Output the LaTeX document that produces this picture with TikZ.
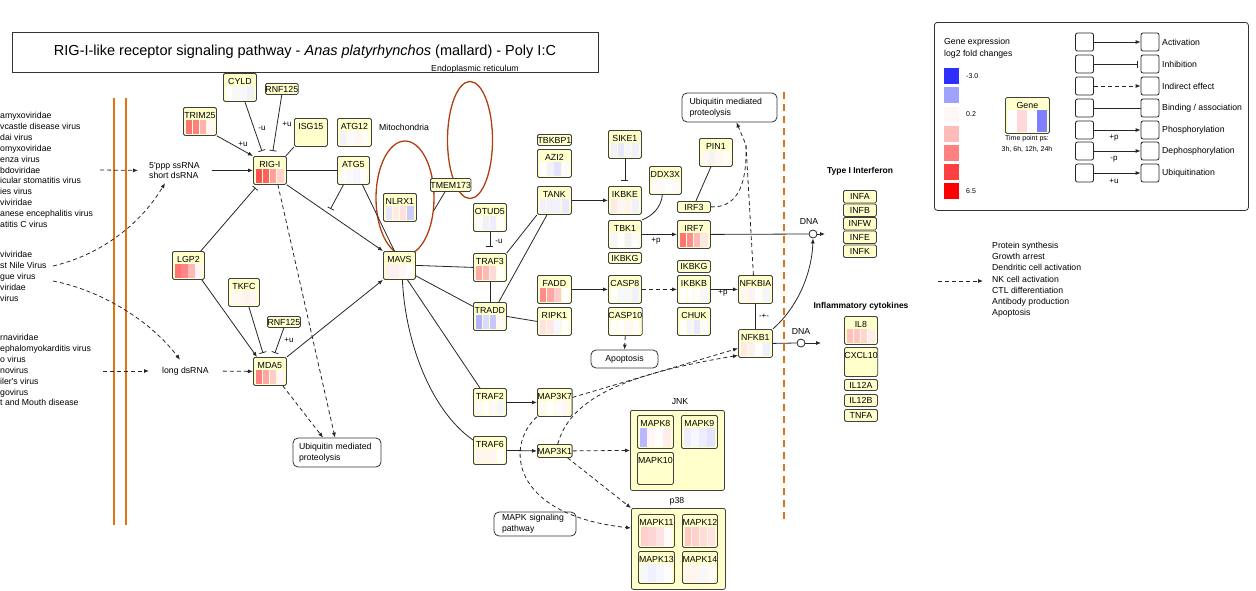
\documentclass[tikz,border=0pt]{standalone}
\usepackage{fontspec}
\setmainfont{Liberation Sans}
\usepackage{tikz}
\usetikzlibrary{arrows.meta,calc,shapes.geometric}
\usepackage{xcolor}
\definecolor{genefill}{RGB}{255,255,204}
\definecolor{geneline}{RGB}{64,64,64}
\definecolor{orgred}{RGB}{178,62,18}
\definecolor{memorange}{RGB}{222,116,18}

\newcommand{\gene}[9][]{%
  \node[gene,anchor=north west,#1] (#2) at (#3,#4) {#5};
  \path[fill=#6] let \p1=(#2.south west),\p2=(#2.north east),\n1={(\x2-\x1-5pt)/4} in (\x1+2.5pt,\y1+2pt) rectangle (\x1+1.7pt+\n1,\y2-13pt);
  \path[fill=#7] let \p1=(#2.south west),\p2=(#2.north east),\n1={(\x2-\x1-5pt)/4} in (\x1+2.5pt+\n1,\y1+2pt) rectangle (\x1+1.7pt+2*\n1,\y2-13pt);
  \path[fill=#8] let \p1=(#2.south west),\p2=(#2.north east),\n1={(\x2-\x1-5pt)/4} in (\x1+2.5pt+2*\n1,\y1+2pt) rectangle (\x1+1.7pt+3*\n1,\y2-13pt);
  \path[fill=#9] let \p1=(#2.south west),\p2=(#2.north east),\n1={(\x2-\x1-5pt)/4} in (\x1+2.5pt+3*\n1,\y1+2pt) rectangle (\x1+1.7pt+4*\n1,\y2-13pt);
}

\begin{document}
\begin{tikzpicture}[x=1pt,y=-1pt,>={Latex[length=5pt,width=4pt]},font=\fontsize{8.7}{10.9}\selectfont,
  gene/.style={draw=geneline,fill=genefill,rounded corners=1.5pt,line width=0.8pt,minimum width=33pt,inner sep=0pt,text height=11pt,text depth=17pt,font=\fontsize{8.8}{10}\selectfont},
  tag/.style={draw=geneline,fill=genefill,rounded corners=1.5pt,line width=0.8pt,minimum width=33pt,minimum height=11pt,inner sep=0pt,text height=6.3pt,text depth=0pt,anchor=north west,font=\fontsize{8.8}{10}\selectfont},
  grp/.style={draw=geneline,fill=genefill,rounded corners=2pt,line width=0.8pt,inner sep=0pt,anchor=north west},
  pbox/.style={draw=black!80,fill=white,rounded corners=5pt,line width=0.8pt,inner xsep=0pt,inner ysep=0pt,align=left,font=\fontsize{8.7}{11}\selectfont},
  legbox/.style={draw=black!85,fill=white,rounded corners=2pt,line width=0.8pt,minimum width=18pt,minimum height=18pt,inner sep=0pt},
  orgring/.style={ellipse,draw=orgred,line width=1.3pt,inner sep=0pt},
  dnacirc/.style={circle,draw=black!85,fill=white,line width=0.8pt,minimum size=8pt,inner sep=0pt},
  txt/.style={inner sep=0pt},
  elab/.style={inner sep=0pt,font=\fontsize{8}{9}\selectfont},
  link/.style={draw=black!85,line width=0.8pt},
  act/.style={link,->},
  inh/.style={link,-{Bar[width=7pt]}},
  dsh/.style={link,dash pattern=on 4pt off 3pt},
  ind/.style={dsh,->}]
\useasboundingbox (0,0) rectangle (1256,590);

\node[draw=black!80,line width=0.8pt,minimum width=586pt,minimum height=40pt,inner sep=0pt,font=\fontsize{14.5}{16}\selectfont] (title) at (305,52) {RIG-I-like receptor signaling pathway - \textit{Anas platyrhynchos} (mallard) - Poly I:C};

\draw[memorange,line width=2pt] (114,98) -- (114,525);
\draw[memorange,line width=2pt] (126,98) -- (126,525);
\draw[memorange,line width=2pt,dash pattern=on 7pt off 5pt] (784,92) -- (784,522);

\node[txt,anchor=north west,align=left] (virgrp1) at (0,112) {amyxoviridae\\vcastle disease virus\\dai virus\\omyxoviridae\\enza virus\\bdoviridae\\icular stomatitis virus\\ies virus\\viviridae\\anese encephalitis virus\\atitis C virus};
\node[txt,anchor=north west,align=left] (virgrp2) at (0,251) {viviridae\\st Nile Virus\\gue virus\\viridae\\virus};
\node[txt,anchor=north west,align=left] (virgrp3) at (0,334) {rnaviridae\\ephalomyokarditis virus\\o virus\\novirus\\iler\textquotesingle s virus\\govirus\\t and Mouth disease};

\node[txt,anchor=west,align=left] (ssrna) at (149,170.5) {5\textquotesingle ppp ssRNA\\short dsRNA};
\node[txt,anchor=west] (lsrna) at (162,371) {long dsRNA};
\coordinate (vin1) at (100,170);
\coordinate (vin2) at (53,266);
\coordinate (vin3) at (53,281);
\coordinate (vin4) at (103,371);
\draw[ind,shorten >=11pt] (vin1) -- (ssrna.west);
\draw[ind] (vin2) .. controls (100,255) and (140,225) .. ([xshift=16pt,yshift=-4pt]ssrna.south west);
\draw[ind] (vin3) .. controls (100,290) and (150,320) .. ([xshift=18pt,yshift=7pt]lsrna.north west);
\draw[ind,shorten >=13pt] (vin4) -- (lsrna.west);

\node[orgring,minimum width=58pt,minimum height=114pt] (mito) at (405,198) {};
\node[orgring,minimum width=45pt,minimum height=117pt] (er) at (470,140) {};
\node[txt] (ertxt) at (475,69) {Endoplasmic reticulum};
\node[txt,anchor=west] (mitotxt) at (379,127) {Mitochondria};

\gene{cyld}{223}{73}{CYLD}{white}{blue!3}{blue!3}{blue!6}
\node[tag,minimum width=32pt] (rnf125a) at (265,83) {RNF125};
\gene{trim}{183}{107}{TRIM25}{red!55}{red!50}{red!30}{red!3}
\gene{isg15}{294}{118}{ISG15}{none}{none}{none}{none}
\gene[minimum width=34pt]{atg12}{337}{118}{ATG12}{blue!5}{blue!2}{red!3}{red!1}
\gene{rigi}{253}{156}{RIG-I}{red!68}{red!62}{red!38}{red!18}
\gene[minimum width=32pt]{atg5}{337}{156}{ATG5}{red!1}{blue!2}{blue!4}{white}
\gene{nlrx1}{383}{193}{NLRX1}{blue!10}{red!8}{red!12}{blue!20}
\node[tag,minimum width=37pt,minimum height=13pt] (tmem) at (430,178) {TMEM173};
\gene[minimum width=32pt]{mavs}{383}{251}{MAVS}{red!6}{red!6}{red!3}{white}
\gene[minimum width=32pt]{lgp2}{172}{251}{LGP2}{red!55}{red!48}{red!28}{red!4}
\gene[minimum width=31pt]{tkfc}{228}{278}{TKFC}{red!3}{red!3}{red!5}{red!3}
\node[tag] (rnf125b) at (267,316) {RNF125};
\gene{mda5}{253}{357}{MDA5}{red!50}{red!35}{red!20}{red!3}

\node[tag,minimum width=34pt] (tbkbp1) at (537,134) {TBKBP1};
\gene[minimum width=34pt]{azi2}{537}{149}{AZI2}{white}{blue!5}{blue!11}{blue!2}
\gene[minimum width=34pt]{tank}{537}{186}{TANK}{blue!6}{blue!6}{blue!5}{blue!9}
\gene{sike1}{608}{130}{SIKE1}{blue!6}{blue!9}{blue!4}{blue!6}
\gene{ikbke}{608}{186}{IKBKE}{red!9}{red!3}{red!5}{blue!6}
\gene{tbk1}{608}{220}{TBK1}{blue!4}{white}{blue!6}{blue!2}
\node[tag] (ikbkga) at (608,252) {IKBKG};
\gene[minimum width=32pt]{ddx3x}{649}{166}{DDX3X}{red!2}{red!2}{white}{red!2}
\gene{pin1}{699}{138}{PIN1}{red!3}{blue!5}{red!3}{red!1}
\node[tag] (irf3) at (677,201) {IRF3};
\gene{irf7}{677}{220}{IRF7}{red!55}{red!45}{red!28}{red!10}
\gene{otud5}{473}{203}{OTUD5}{blue!2}{blue!6}{blue!7}{white}
\gene{traf3}{473}{253}{TRAF3}{red!35}{red!28}{red!15}{white}
\gene{tradd}{473}{302}{TRADD}{blue!30}{blue!14}{blue!22}{red!3}
\gene[minimum width=34pt]{fadd}{537}{275}{FADD}{red!45}{red!35}{red!20}{white}
\gene[minimum width=34pt]{ripk1}{537}{307}{RIPK1}{red!11}{red!9}{blue!3}{white}
\gene{casp8}{608}{275}{CASP8}{white}{blue!3}{blue!3}{blue!6}
\gene{casp10}{608}{307}{CASP10}{white}{white}{red!3}{red!1}
\node[tag,minimum height=12pt] (ikbkgb) at (677,260) {IKBKG};
\gene{ikbkb}{677}{275}{IKBKB}{white}{white}{red!1}{blue!3}
\gene{chuk}{677}{307}{CHUK}{white}{blue!4}{blue!9}{blue!2}
\gene[minimum width=34pt]{nfkbia}{738}{275}{NFKBIA}{red!3}{red!5}{white}{blue!4}
\gene[minimum width=34pt]{nfkb1}{738}{329}{NFKB1}{red!9}{red!6}{white}{blue!6}

\gene{traf2}{473}{388}{TRAF2}{red!2}{white}{blue!2}{blue!4}
\gene[minimum width=34pt]{map3k7}{537}{388}{MAP3K7}{red!2}{white}{blue!2}{red!3}
\gene{traf6}{473}{436}{TRAF6}{red!4}{red!4}{red!3}{white}
\node[tag,minimum width=34pt,minimum height=13pt] (map3k1) at (537,444) {MAP3K1};
\node[grp,minimum width=94pt,minimum height=80pt] (jnk) at (630,410) {};
\node[txt] (jnktxt) at (680,402) {JNK};
\gene[minimum width=36pt,text depth=22pt]{mapk8}{637}{415}{MAPK8}{blue!28}{red!3}{white}{red!7}
\gene[minimum width=36pt,text depth=22pt]{mapk9}{681}{415}{MAPK9}{blue!7}{blue!3}{blue!7}{blue!11}
\gene[minimum width=36pt,text depth=21pt]{mapk10}{637}{452}{MAPK10}{none}{none}{none}{none}
\node[grp,minimum width=94pt,minimum height=81pt] (p38) at (631,508) {};
\node[txt] (p38txt) at (677,501) {p38};
\gene[minimum width=36pt,text depth=22pt]{mapk11}{638}{514}{MAPK11}{red!19}{red!17}{red!11}{red!2}
\gene[minimum width=35pt,text depth=22pt]{mapk12}{682}{514}{MAPK12}{red!22}{red!19}{red!14}{red!11}
\gene[minimum width=36pt,text depth=21pt]{mapk13}{638}{551}{MAPK13}{blue!3}{blue!6}{blue!3}{red!1}
\gene[minimum width=35pt,text depth=21pt]{mapk14}{682}{551}{MAPK14}{red!4}{red!4}{blue!3}{red!2}

\node[pbox,minimum width=88pt,minimum height=29pt,text width=76pt] (ubq2) at (337,452.5) {Ubiquitin mediated\\proteolysis};
\node[pbox,minimum width=95pt,minimum height=29pt,text width=80pt] (ubq1) at (729.5,107.5) {Ubiquitin mediated\\proteolysis};
\node[pbox,align=center,minimum width=67pt,minimum height=18pt] (apop) at (624.5,359) {Apoptosis};
\node[pbox,minimum width=82pt,minimum height=24pt,text width=66pt] (mapkp) at (535,524) {MAPK signaling\\pathway};

\node[txt,font=\bfseries\fontsize{8.5}{10}\selectfont] (ifntxt) at (860,171) {Type I Interferon};
\node[tag,minimum height=12.5pt] (infa) at (843,190) {INFA};
\node[tag,minimum height=12.5pt] (infb) at (843,203.5) {INFB};
\node[tag,minimum height=12.5pt] (infw) at (843,217) {INFW};
\node[tag,minimum height=12.5pt] (infe) at (843,230.5) {INFE};
\node[tag,minimum height=12.5pt] (infk) at (843,244.5) {INFK};
\node[txt,font=\bfseries\fontsize{8.5}{10}\selectfont] (cyttxt) at (861,306) {Inflammatory cytokines};
\gene{il8}{844}{316}{IL8}{red!25}{red!23}{red!17}{red!7}
\gene[text depth=18pt]{cxcl10}{844}{347}{CXCL10}{none}{none}{none}{none}
\node[tag] (il12a) at (844,379) {IL12A};
\node[tag,minimum height=12pt] (il12b) at (844,394) {IL12B};
\node[tag,minimum height=12pt] (tnfa) at (844,409) {TNFA};

\node[txt] (dnat1) at (809,222) {DNA};
\node[dnacirc] (dna1) at (813,234) {};
\coordinate (dna1e) at (825,234);
\node[txt] (dnat2) at (801,331) {DNA};
\node[dnacirc] (dna2) at (801,343) {};
\coordinate (dna2e) at (821,343);

\coordinate (outin) at (938,281);
\coordinate (outend) at (983,281);
\draw[ind] (outin) -- (outend);
\node[txt,anchor=north west,align=left,font=\fontsize{8.7}{11.2}\selectfont] (outcomes) at (992,242) {Protein synthesis\\Growth arrest\\Dendritic cell activation\\NK cell activation\\CTL differentiation\\Antibody production\\Apoptosis};

\draw[act] (trim.south east) -- (rigi.north west);
\node[elab] (ubtrim) at (243,144) {+u};
\draw[inh] ([xshift=5pt]cyld.south) -- ([xshift=-8pt,yshift=5pt]rigi.north);
\node[elab] (ducyld) at (262,128) {-u};
\draw[inh] (rnf125a.south) -- ([xshift=3pt,yshift=5pt]rigi.north);
\node[elab] (ubrnfa) at (287,124) {+u};
\draw[link] (isg15.south west) -- ([xshift=-1pt]rigi.north east);
\draw[act,shorten <=12pt] (ssrna.east) -- (rigi.west);
\draw[link] (rigi.east) -- (atg5.west);
\draw[act] (rigi.south east) -- coordinate[pos=0.43] (rimv) (mavs.north west);
\draw[inh,shorten >=5pt] ([xshift=-10pt]atg5.south) -- (rimv);
\draw[link] ([xshift=9pt]atg5.south) -- ([xshift=-5pt]mavs.north);
\draw[inh,shorten >=4pt] ([xshift=-4pt]lgp2.north east) -- ([xshift=5pt]rigi.south west);
\draw[ind] ([xshift=8pt]rigi.south) -- ([xshift=-2pt]ubq2.north);
\draw[act] ([xshift=-3pt]lgp2.south east) -- ([xshift=4pt]mda5.north west);
\draw[inh] ([xshift=5pt]tkfc.south) -- ([xshift=-7pt,yshift=4pt]mda5.north);
\draw[inh] (rnf125b.south) -- ([xshift=5pt,yshift=4pt]mda5.north);
\node[elab] (ubrnfb) at (289,340) {+u};
\draw[ind,shorten <=14pt] (lsrna.east) -- (mda5.west);
\draw[act] (mda5.north east) -- (mavs.south west);
\draw[ind] ([xshift=-4pt]mda5.south east) -- ([xshift=-14pt]ubq2.north);
\draw[link] ([xshift=15pt]tmem.south west) -- (mito.-23);

\draw[link] (mavs.east) -- (traf3.west);
\draw[link] ([yshift=4pt]mavs.south east) -- ([yshift=10pt]tradd.west);
\draw[link] ([xshift=8pt]mavs.south) -- ([xshift=7pt]traf2.north west);
\draw[link] ([xshift=3pt]mavs.south) .. controls (405,340) and (430,410) .. ([yshift=-4pt]traf6.north west);
\draw[inh,shorten >=6pt] (otud5.south) -- (traf3.north);
\node[elab] (duotud) at (499,241) {-u};
\draw[link] (traf3.south) -- (tradd.north);
\draw[link] (traf3.north east) -- (tank.south west);
\draw[link] ([xshift=-8pt]tradd.north east) -- ([xshift=10pt]tank.south west);
\draw[link] (tradd.east) -- (ripk1.west);
\draw[act] (tank.east) -- (ikbke.west);
\draw[inh,shorten >=5pt] (sike1.south) -- (ikbke.north);
\draw[link] ([xshift=-3pt]ddx3x.south) .. controls (661,208) and (652,216) .. (tbk1.north east);
\draw[act] (tbk1.east) -- (irf7.west);
\node[elab] (ptbk) at (656,241) {+p};
\draw[link] ([xshift=-5pt]pin1.south) -- ([xshift=2pt]irf3.north);
\coordinate (ubm) at (746,145);
\draw[dsh] (irf3.east) .. controls (740,208) and (747,180) .. (ubm);
\draw[ind] ([xshift=-2pt]nfkbia.north) -- (ubm) -- ([xshift=7pt]ubq1.south);
\draw[link] (irf7.east) -- (dna1.west);
\draw[act] (dna1.east) -- (dna1e);
\draw[act] (fadd.east) -- (casp8.west);
\draw[ind] (casp8.east) -- (ikbkb.west);
\draw[ind] (casp10.south) -- (apop.north);
\draw[act] (ikbkb.east) -- (nfkbia.west);
\node[elab] (pikbkb) at (723,293) {+p};
\draw[link] (nfkbia.south) -- (nfkb1.north);
\node[elab] (dissoc) at (764,316) {-+-};
\draw[act] (nfkb1.north east) .. controls (800,305) and (812,270) .. (dna1.south);
\draw[link] (nfkb1.east) -- (dna2.west);
\draw[act] (dna2.east) -- (dna2e);

\draw[act] (traf2.east) -- (map3k7.west);
\draw[act] (traf6.east) -- (map3k1.west);
\draw[ind] ([yshift=5pt]map3k7.east) -- ([yshift=-5pt]nfkb1.west);
\draw[ind] ([xshift=3pt]map3k1.north) .. controls (570,400) and (620,375) .. ([yshift=-12pt]nfkb1.west);
\draw[ind] (map3k1.east) -- (jnk.west);
\draw[ind] ([xshift=-5pt]map3k1.south east) -- (p38.north west);
\draw[ind] (map3k7.south west) .. controls (505,445) and (510,515) .. ([yshift=-20pt]p38.north west);

\node[draw=black!80,line width=0.8pt,rounded corners=3pt,minimum width=314pt,minimum height=188pt,anchor=north west,inner sep=0pt] (legend) at (934,22) {};
\node[txt,anchor=base west] (legt1) at (944,44) {Gene expression};
\node[txt,anchor=base west] (legt2) at (944,56) {log2 fold changes};
\fill[blue!82] (944,68) rectangle (959,83.5);
\fill[blue!37] (944,87) rectangle (959,102.5);
\fill[red!3] (944,106.5) rectangle (959,122);
\fill[red!27] (944,126) rectangle (959,141.5);
\fill[red!50] (944,145) rectangle (959,160.5);
\fill[red!75] (944,164) rectangle (959,179.5);
\fill[red] (944,183) rectangle (959,198.5);
\node[txt,anchor=west,font=\fontsize{7}{8}\selectfont] (legmin) at (966,76) {-3.0};
\node[txt,anchor=west,font=\fontsize{7}{8}\selectfont] (legmid) at (966,114) {0.2};
\node[txt,anchor=west,font=\fontsize{7}{8}\selectfont] (legmax) at (966,191) {6.5};
\gene[minimum width=44pt,text depth=25pt]{leggene}{1005}{97}{Gene}{white}{red!15}{white}{blue!50}
\node[txt,font=\fontsize{7}{8}\selectfont] (legtp1) at (1027,139) {Time point ps:};
\node[txt,font=\fontsize{7}{8}\selectfont] (legtp2) at (1027,149) {3h, 6h, 12h, 24h};

\node[legbox] (la1) at (1084.5,42) {};
\node[legbox] (lb1) at (1150,42) {};
\draw[act] (la1) -- (lb1);
\node[txt,anchor=west] (lt1) at (1162,42) {Activation};
\node[legbox] (la2) at (1084.5,64) {};
\node[legbox] (lb2) at (1150,64) {};
\draw[inh,shorten >=3pt] (la2) -- (lb2);
\node[txt,anchor=west] (lt2) at (1162,64) {Inhibition};
\node[legbox] (la3) at (1084.5,86) {};
\node[legbox] (lb3) at (1150,86) {};
\draw[ind] (la3) -- (lb3);
\node[txt,anchor=west] (lt3) at (1162,86) {Indirect effect};
\node[legbox] (la4) at (1084.5,108) {};
\node[legbox] (lb4) at (1150,108) {};
\draw[link] (la4) -- (lb4);
\node[txt,anchor=west] (lt4) at (1162,108) {Binding / association};
\node[legbox] (la5) at (1084.5,130) {};
\node[legbox] (lb5) at (1150,130) {};
\draw[act] (la5) -- (lb5);
\node[elab] (lp5) at (1114,138) {+p};
\node[txt,anchor=west] (lt5) at (1162,130) {Phosphorylation};
\node[legbox] (la6) at (1084.5,151) {};
\node[legbox] (lb6) at (1150,151) {};
\draw[act] (la6) -- (lb6);
\node[elab] (lp6) at (1114,159) {-p};
\node[txt,anchor=west] (lt6) at (1162,151) {Dephosphorylation};
\node[legbox] (la7) at (1084.5,173) {};
\node[legbox] (lb7) at (1150,173) {};
\draw[act] (la7) -- (lb7);
\node[elab] (lp7) at (1114,181) {+u};
\node[txt,anchor=west] (lt7) at (1162,173) {Ubiquitination};
\end{tikzpicture}
\end{document}
